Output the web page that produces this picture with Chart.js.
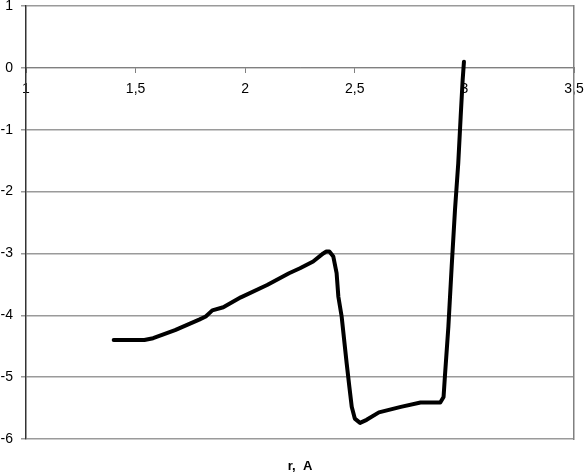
<!DOCTYPE html>
<html>
<head>
<meta charset="utf-8">
<script src="https://cdn.jsdelivr.net/npm/chart.js@4"></script>
<style>
  body { margin: 0; background: #fff; }
  #wrap { width: 586px; height: 474px; }
</style>
</head>
<body>
<div id="wrap"><canvas id="chart" width="586" height="474"></canvas></div>
<script>
// r values (A) and energy
const rValues = [1.40, 1.54, 1.58, 1.68, 1.79, 1.82, 1.85, 1.90, 1.98, 2.10, 2.20, 2.25, 2.31, 2.356, 2.37, 2.384,
  2.402, 2.417, 2.425, 2.44, 2.463, 2.475, 2.486, 2.50, 2.524, 2.554, 2.61, 2.71, 2.80, 2.89,
  2.905, 2.911, 2.927, 2.942, 2.957, 2.972, 2.983, 2.992, 2.998];
const energy = [-4.40, -4.40, -4.37, -4.24, -4.07, -4.02, -3.92, -3.87, -3.71, -3.51, -3.32, -3.24, -3.13, -3.00, -2.97, -2.97,
  -3.05, -3.32, -3.70, -4.02, -4.78, -5.15, -5.48, -5.67, -5.74, -5.69, -5.57, -5.48, -5.41, -5.41,
  -5.32, -4.99, -4.18, -3.21, -2.30, -1.54, -0.79, -0.20, 0.10];
const xTicks = [1, 1.5, 2, 2.5, 3, 3.5];
const yTicks = [1, 0, -1, -2, -3, -4, -5, -6];
const axisTitle = 'r,  A';

const font = { family: '"Liberation Sans", Arial, sans-serif', size: 14 };

const ctx = document.getElementById('chart').getContext('2d');
new Chart(ctx, {
  type: 'scatter',
  data: {
    datasets: [{
      data: rValues.map((r, i) => ({ x: r, y: energy[i] })),
      showLine: true,
      borderColor: '#000',
      borderWidth: 4,
      pointRadius: 0,
      tension: 0,
      borderJoinStyle: 'round',
      borderCapStyle: 'round',
    }],
  },
  options: {
    responsive: false,
    animation: false,
    layout: { padding: 0 },
    plugins: {
      legend: { display: false },
      tooltip: { enabled: false },
    },
    scales: {
      x: {
        type: 'linear',
        position: { y: 0 },
        min: 1,
        max: 3.5,
        afterBuildTicks: (scale) => { scale.ticks = xTicks.map(v => ({ value: v })); },
        afterFit: (scale) => { scale.paddingLeft = 0; scale.paddingRight = 0; },
        ticks: {
          autoSkip: false,
          maxRotation: 0,
          padding: 8,
          color: '#000',
          font: font,
          callback: (v) => String(v).replace('.', ','),
        },
        grid: { drawOnChartArea: false, tickLength: 5, color: '#808080' },
        border: { color: '#808080', width: 1 },
      },
      x2: {
        type: 'linear',
        position: 'bottom',
        min: 1,
        max: 3.5,
        afterFit: (scale) => { scale.height = 35; scale.paddingLeft = 0; scale.paddingRight = 0; },
        ticks: { display: false },
        grid: { display: false },
        border: { display: false },
        title: {
          display: true,
          text: axisTitle,
          color: '#000',
          font: { family: font.family, size: 13, weight: 'bold' },
          padding: { top: 1, bottom: 0 },
        },
      },
      y: {
        position: 'left',
        min: -6,
        max: 1,
        afterBuildTicks: (scale) => { scale.ticks = yTicks.map(v => ({ value: v })); },
        afterFit: (scale) => { scale.width = 26; scale.paddingTop = 6; scale.paddingBottom = 0; },
        ticks: { color: '#000', font: font, padding: 8 },
        grid: { color: '#9a9a9a', lineWidth: 1.5, tickLength: 5 },
        border: { color: '#333', width: 1.5 },
      },
      y2: {
        position: 'right',
        min: -6,
        max: 1,
        afterFit: (scale) => { scale.width = 12; scale.paddingTop = 0; scale.paddingBottom = 0; },
        ticks: { display: false },
        grid: { display: false },
        border: { color: '#808080', width: 1.5 },
      },
    },
  },
});
</script>
</body>
</html>
